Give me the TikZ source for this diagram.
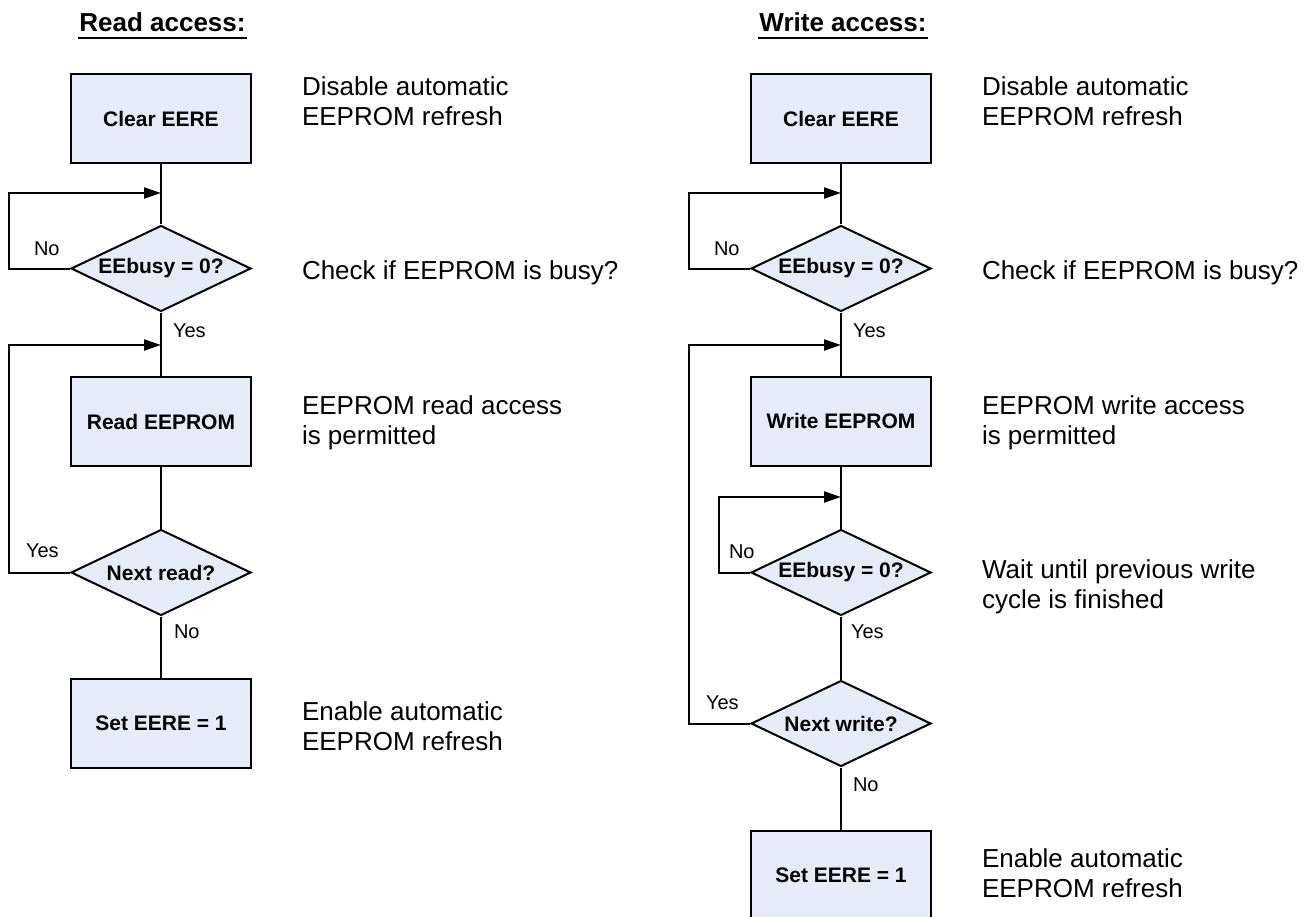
\documentclass[tikz,border=0pt]{standalone}
\usepackage{fontspec}
\setmainfont{Liberation Sans}
\usetikzlibrary{shapes.geometric,arrows.meta}
\definecolor{boxfill}{HTML}{E6ECF7}
\begin{document}
\begin{tikzpicture}[x=1pt,y=-1pt,
  line width=2pt,
  procbox/.style={draw=black, fill=boxfill, rectangle, minimum width=180pt, minimum height=89pt, inner sep=0pt, font=\fontsize{21}{25}\selectfont\bfseries},
  decbox/.style={draw=black, fill=boxfill, diamond, aspect=2, minimum width=180pt, minimum height=86pt, inner sep=0pt, font=\fontsize{21}{25}\selectfont\bfseries},
  desc/.style={anchor=north west, inner sep=0pt, align=left, font=\fontsize{26}{30}\selectfont},
  lbl/.style={anchor=base west, inner sep=0pt, font=\fontsize{20}{24}\selectfont},
  ttl/.style={anchor=base, inner sep=0pt, font=\fontsize{26}{30}\selectfont\bfseries},
  arr/.style={-{Triangle[length=17pt,width=11pt]}}
]
\useasboundingbox (0,0) rectangle (1308,917);
\clip (0,0) rectangle (1308,917);

% titles
\node[ttl] (t1) at (162.5,32) {Read access:};
\draw ([yshift=-6pt]t1.base west) -- ([yshift=-6pt]t1.base east);
\node[ttl] (t2) at (843,32) {Write access:};
\draw ([yshift=-6pt]t2.base west) -- ([yshift=-6pt]t2.base east);

% left column
\node[procbox] (lb1) at (161,118.5) {Clear EERE};
\node[decbox] (ld1) at (161,268.5) {EEbusy = 0?};
\node[procbox] (lb2) at (161,421.5) {Read EEPROM};
\node[decbox] (ld2) at (161,572.5) {Next read?};
\node[procbox] (lb3) at (161,723.5) {Set EERE = 1};
\coordinate (lj1) at (161,193);
\coordinate (lj2) at (161,345);

\draw (lb1) -- (ld1);
\draw (ld1) -- (lb2);
\draw (lb2) -- (ld2);
\draw (ld2) -- (lb3);
\draw[arr] (ld1.west) -- ++(-61,0) |- (lj1);
\draw[arr] (ld2.west) -- ++(-61,0) |- (lj2);

\node[lbl] (lno1) at (33,255) {No};
\node[lbl] (lyes1) at (172,337) {Yes};
\node[lbl] (lyes2) at (25,557) {Yes};
\node[lbl] (lno2) at (173,638) {No};

\node[desc] (ldesc1) at (301,75.2) {Disable automatic\\EEPROM refresh};
\node[desc] (ldesc2) at (301,259.2) {Check if EEPROM is busy?};
\node[desc] (ldesc3) at (301,394.2) {EEPROM read access\\is permitted};
\node[desc] (ldesc4) at (301,700.2) {Enable automatic\\EEPROM refresh};

% right column
\node[procbox] (rb1) at (841,118.5) {Clear EERE};
\node[decbox] (rd1) at (841,268.5) {EEbusy = 0?};
\node[procbox] (rb2) at (841,421) {Write EEPROM};
\node[decbox] (rd2) at (841,572.5) {EEbusy = 0?};
\node[decbox] (rd3) at (841,723.5) {Next write?};
\node[procbox] (rb3) at (841,875.5) {Set EERE = 1};
\coordinate (rj1) at (841,193);
\coordinate (rj2) at (841,345);
\coordinate (rj3) at (841,497);

\draw (rb1) -- (rd1);
\draw (rd1) -- (rb2);
\draw (rb2) -- (rd2);
\draw (rd2) -- (rd3);
\draw (rd3) -- (rb3);
\draw[arr] (rd1.west) -- ++(-61,0) |- (rj1);
\draw[arr] (rd3.west) -- ++(-61,0) |- (rj2);
\draw[arr] (rd2.west) -- ++(-31,0) |- (rj3);

\node[lbl] (rno1) at (713,255) {No};
\node[lbl] (ryes1) at (852,337) {Yes};
\node[lbl] (rno2) at (728,558) {No};
\node[lbl] (ryes2) at (850,638) {Yes};
\node[lbl] (ryes3) at (705,709) {Yes};
\node[lbl] (rno3) at (852,791) {No};

\node[desc] (rdesc1) at (981,75.2) {Disable automatic\\EEPROM refresh};
\node[desc] (rdesc2) at (981,259.2) {Check if EEPROM is busy?};
\node[desc] (rdesc3) at (981,394.2) {EEPROM write access\\is permitted};
\node[desc] (rdesc4) at (981,558.2) {Wait until previous write\\cycle is finished};
\node[desc] (rdesc5) at (981,847.2) {Enable automatic\\EEPROM refresh};
\end{tikzpicture}
\end{document}
